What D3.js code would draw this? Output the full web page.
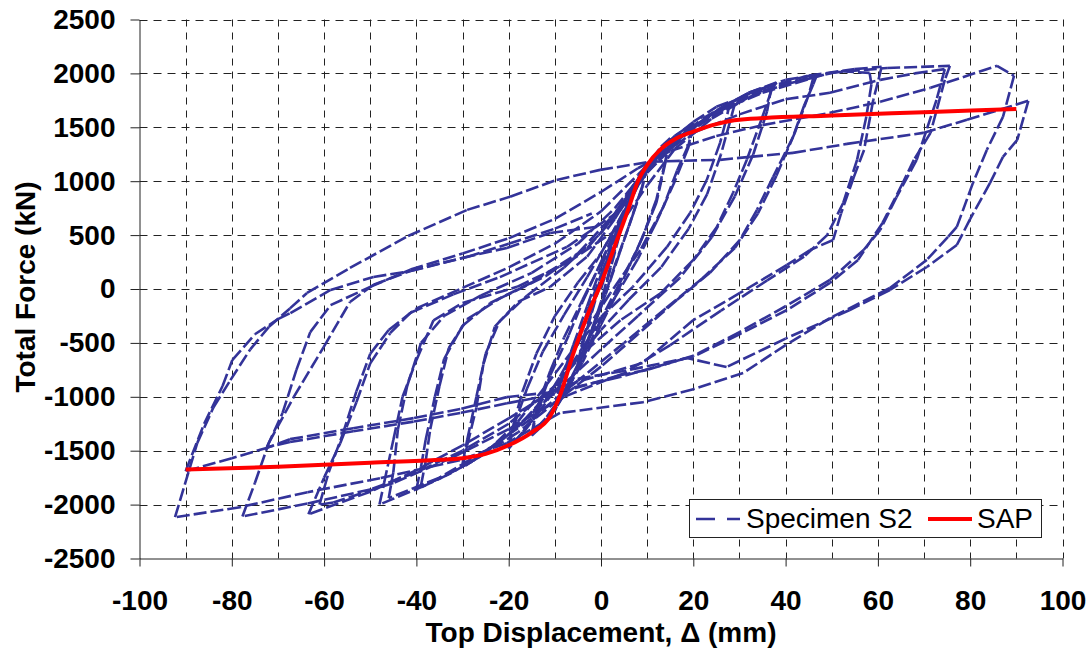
<!DOCTYPE html>
<html>
<head>
<meta charset="utf-8">
<script src="https://cdn.jsdelivr.net/npm/d3@7"></script>
<style>
  body { margin: 0; background: #fff; }
  text { font-family: Arial, "Liberation Sans", sans-serif; }
</style>
</head>
<body>
<div class="chart"></div>
<script>
// axis ticks
var xTicks = [-100, -80, -60, -40, -20, 0, 20, 40, 60, 80, 100];
var xGrid = [-90, -80, -70, -60, -50, -40, -30, -20, -10, 0, 10, 20, 30, 40, 50, 60, 70, 80, 90, 100];
var yTicks = [-2500, -2000, -1500, -1000, -500, 0, 500, 1000, 1500, 2000, 2500];
var yGrid = [-2000, -1500, -1000, -500, 0, 500, 1000, 1500, 2000, 2500];

// SAP analysis curve [displacement mm, force kN]
var sapCurve = [[-90, -1675], [-70, -1650], [-50, -1612], [-35, -1585], [-30, -1570], [-25, -1530],
  [-20, -1450], [-15, -1330], [-11, -1180], [-9, -1000], [-6, -600], [-3, -250], [0, 50], [3, 400],
  [6, 750], [8, 1000], [10, 1150], [13, 1300], [16, 1390], [20, 1460], [25, 1530], [30, 1570],
  [50, 1610], [70, 1640], [90, 1670]];

// Specimen S2 test record, read cycle by cycle
var s2Cycle5 = [[0, 0], [2, 280], [4, 560], [5, 680], [4, 520], [2, 200], [0, -120], [-2, -380], [-4, -600],
  [-5, -700], [-4, -520], [-2, -220], [0, 80], [2, 380], [4, 600], [5, 690], [4, 500], [2, 180], [0, -150],
  [-2, -400], [-4, -620], [-5, -690]];
var s2Cycle10 = [[-4, -480], [-2, -200], [0, 120], [3, 480], [6, 820], [8, 1000], [10, 1150], [9, 950], [7, 700],
  [4, 330], [1, -50], [-2, -380], [-5, -700], [-8, -950], [-10, -1130], [-9, -900], [-6, -560], [-3, -220],
  [0, 130], [3, 480], [6, 820], [8, 1020], [10, 1160], [9, 960], [6, 580], [3, 220], [0, -170], [-3, -500],
  [-6, -800], [-8, -980], [-10, -1120]];
var s2Cycle15 = [[-9, -880], [-6, -520], [-3, -160], [0, 200], [4, 600], [8, 960], [11, 1200], [13, 1320],
  [15, 1400], [14, 1200], [12, 830], [9, 480], [6, 200], [3, -80], [0, -330], [-4, -680], [-8, -980],
  [-11, -1170], [-13, -1280], [-15, -1360], [-14, -1150], [-11, -800], [-7, -430], [-4, -120], [0, 250],
  [4, 620], [8, 980], [11, 1200], [15, 1380], [14, 1180], [12, 800], [8, 380], [4, 50], [0, -280],
  [-4, -650], [-8, -960], [-12, -1200], [-15, -1340]];
var s2Cycle20 = [[-14, -1120], [-11, -760], [-8, -450], [-4, -100], [0, 240], [4, 620], [8, 980], [12, 1240],
  [16, 1420], [20, 1540], [19, 1340], [16.5, 1100], [13.5, 760], [8.5, 360], [2, -40], [-4, -430], [-9, -820],
  [-13, -1100], [-17, -1330], [-20, -1480], [-19, -1280], [-16, -920], [-12.6, -580], [-8, -240], [-3, 110],
  [2, 480], [7, 900], [11, 1180], [15, 1380], [20, 1520], [19, 1320], [16, 1000], [12, 620], [8, 280],
  [3, -80], [-3, -480], [-8, -800], [-13, -1120], [-17, -1340], [-20, -1460]];
var s2Cycle30 = [[-19, -1260], [-17, -950], [-14, -600], [-10, -250], [-5, 60], [0, 330], [5, 720], [10, 1120],
  [15, 1380], [20, 1550], [25, 1690], [28, 1740], [27, 1550], [25.8, 1355], [22.9, 1010], [19.3, 705],
  [14.3, 390], [6.9, 20], [0, -260], [-6, -560], [-12, -900], [-18, -1230], [-24, -1480], [-30, -1660],
  [-29, -1450], [-27, -1100], [-25.5, -700], [-23, -350], [-18, -120], [-11, 20], [-3, 300], [3, 650],
  [8, 1000], [12, 1220], [18, 1430], [24, 1600], [29, 1720], [28, 1560], [26, 1250], [23, 880], [19, 560],
  [13, 200], [6, -100], [0, -380], [-8, -800], [-15, -1150], [-22, -1420], [-28, -1580], [-30, -1620]];
var s2Cycle40 = [[-29, -1400], [-27, -1000], [-25, -600], [-22, -300], [-16, -60], [-8, 200], [0, 520], [6, 880],
  [12, 1220], [20, 1500], [26, 1680], [32, 1820], [38, 1915], [37, 1850], [35, 1600], [31.6, 1200],
  [28.6, 890], [25.1, 575], [20, 270], [12.9, -40], [4.2, -290], [-3, -560], [-10, -900], [-18, -1280],
  [-26, -1550], [-33, -1720], [-40, -1860], [-39, -1650], [-38, -1400], [-36, -1000], [-34, -650],
  [-30, -340], [-24, -130], [-15, 60], [-5, 330], [3, 700], [10, 1100], [16, 1380], [22, 1580], [28, 1730],
  [33, 1830], [37, 1890], [36, 1650], [33, 1250], [29, 860], [24, 480], [17, 100], [8, -250], [0, -560],
  [-10, -960], [-20, -1350], [-28, -1600], [-35, -1760], [-39, -1820]];
var s2Cycle48 = [[-38, -1600], [-37, -1300], [-35, -900], [-33, -550], [-29, -280], [-22, -90], [-12, 120],
  [-3, 380], [4, 720], [10, 1080], [16, 1360], [24, 1620], [32, 1820], [40, 1940], [46.8, 1987], [46, 1900],
  [44, 1700], [41.6, 1410], [37.3, 1040], [33.8, 735], [30.1, 455], [23.6, 150], [16.5, -100], [8, -420],
  [0, -720], [-9, -1020], [-18, -1330], [-28, -1600], [-38, -1820], [-48, -2000], [-47, -1800], [-45, -1400],
  [-43, -1000], [-40, -660], [-36.3, -290], [-30, -130], [-18.2, 20], [-7.4, 240], [3.4, 550], [10, 960],
  [16, 1300], [24, 1580], [32, 1780], [40, 1900], [46, 1960], [45, 1800], [42, 1450], [38, 1050], [34, 700],
  [29, 380], [22, 100], [14, -180], [5, -500], [-5, -850], [-15, -1200], [-25, -1500], [-35, -1750],
  [-46, -1940]];
var s2Cycle60 = [[-45, -1700], [-44, -1300], [-42, -900], [-39, -500], [-34, -250], [-26, -60], [-15, 150],
  [-5, 420], [3, 750], [10, 1120], [18, 1450], [26, 1680], [35, 1860], [45, 1980], [55, 2040], [60.8, 2061],
  [60, 1920], [59, 1755], [57, 1290], [54.8, 1040], [52, 700], [50.3, 455], [45.3, 362], [40.3, 223],
  [30.1, -37], [20, -288], [9, -687], [-9, -910], [-20, -1200], [-30, -1450], [-40, -1680], [-50, -1880],
  [-63.4, -2090], [-60, -1750], [-56.5, -1430], [-53, -1050], [-50, -690], [-45.7, -410], [-41.3, -220],
  [-32, -50], [-21.9, 110], [-7.4, 390], [3.4, 706], [10, 1080], [18, 1420], [26, 1660], [35, 1840],
  [45, 1960], [52, 2020], [58.2, 2005], [58.6, 1900], [57.5, 1600], [55.5, 1200], [52.5, 800], [49, 500],
  [44, 300], [36, 80], [26, -200], [15, -520], [5, -780], [-8, -1000], [-20, -1300], [-32, -1560],
  [-45, -1800], [-58, -1980], [-61, -2000]];
var s2Cycle75 = [[-59, -1700], [-56, -1350], [-53, -950], [-50, -600], [-46, -380], [-40, -180], [-30, 10],
  [-20, 200], [-10, 420], [0, 720], [8, 1060], [15, 1360], [25, 1640], [35, 1820], [49.6, 2005], [62, 2050],
  [75.6, 2070], [74.5, 1940], [71.4, 1448], [67.8, 1198], [65.4, 984], [61, 613], [55.7, 270], [49.6, 56],
  [40.3, -195], [30, -420], [19.9, -631], [5, -760], [-8.9, -860], [-20, -1250], [-30, -1500], [-40, -1700],
  [-50, -1860], [-63.6, -1990], [-77.7, -2110], [-75, -1800], [-72, -1430], [-66.6, -1003], [-60.1, -539],
  [-54.4, -121], [-49.3, 40], [-41.3, 167], [-30, 290], [-20.4, 381], [-11, 520], [1.3, 590], [6, 900],
  [10, 1150], [20, 1450], [30, 1620], [40, 1760], [49.6, 1820], [60.5, 1940], [68, 2000], [74.5, 2040],
  [72.7, 1755], [68.4, 1198], [64, 850], [60.5, 548], [56.9, 362], [49.6, 84], [40, -160], [30, -400],
  [20, -620], [10, -750], [4.1, -800], [-10.4, -980], [-20.4, -1060], [-30.5, -1150], [-40.6, -1230],
  [-53.7, -1320], [-67.4, -1420], [-72.4, -1467]];
var s2Cycle90 = [[-69, -1150], [-66, -750], [-63, -400], [-58.6, -150], [-50, 20], [-41.3, 180], [-30, 330],
  [-20, 470], [-10, 650], [0, 900], [8, 1120], [15, 1280], [25, 1420], [35, 1520], [49.6, 1634], [60.5, 1736],
  [71.4, 1866], [85.8, 2070], [89.5, 1978], [87.1, 1597], [83.6, 1290], [80.6, 984], [77.1, 576], [75.2, 483],
  [70.6, 270], [62.6, 9], [49.6, -270], [40, -520], [30.8, -780], [20, -930], [9.1, -1050], [-8.9, -1150],
  [-20.4, -1430], [-30.6, -1588], [-47.9, -1755], [-63.6, -1885], [-78.2, -2024], [-92.3, -2117],
  [-87.5, -1430], [-84, -1100], [-80.3, -845], [-76, -560], [-72, -353], [-67.4, -180], [-63.7, -37],
  [-54.4, 195], [-41.8, 492], [-29, 734], [-19.7, 856], [-9.6, 1012], [-0.2, 1105], [10.6, 1180], [18, 1190],
  [25.8, 1198], [32.3, 1226], [41.6, 1263], [53.3, 1346], [69.8, 1448], [79.3, 1570], [92.6, 1746],
  [90.2, 1383], [87.1, 1226], [84.3, 984], [80, 650], [77.1, 408], [70.6, 204], [62.6, -9], [53.9, -195],
  [40, -460], [27.2, -724], [18.6, -640], [4.1, -817], [-10.4, -956], [-20.4, -1003], [-30.5, -1114],
  [-40.6, -1198], [-53.7, -1291], [-67.4, -1393], [-71.9, -1467], [-80, -1570], [-90, -1690], [-86, -1250],
  [-82, -900], [-79.9, -660], [-75, -420], [-70, -280], [-67.3, -223], [-58.6, -9], [-49.3, 112],
  [-41.3, 167], [-29, 297], [-20, 420], [-10, 560], [-2, 700]];

var svgWidth = 1091;
var svgHeight = 651;

var svg = d3.select(".chart")
  .append("svg")
  .attr("width", svgWidth)
  .attr("height", svgHeight);

// scales
var xScale = d3.scaleLinear().domain([-100, 100]).range([139.5, 1062.5]);
var yScale = d3.scaleLinear().domain([-2500, 2500]).range([558.5, 19.5]);

// grid
svg.append("g").selectAll("line")
  .data(xGrid)
  .enter()
  .append("line")
  .attr("x1", d => Math.round(xScale(d)) + 0.5)
  .attr("x2", d => Math.round(xScale(d)) + 0.5)
  .attr("y1", yScale(2500))
  .attr("y2", yScale(-2500))
  .attr("stroke", "#222")
  .attr("stroke-width", 1)
  .attr("stroke-dasharray", "7,6");

svg.append("g").selectAll("line")
  .data(yGrid)
  .enter()
  .append("line")
  .attr("x1", xScale(-100))
  .attr("x2", xScale(100))
  .attr("y1", d => Math.round(yScale(d)) + 0.5)
  .attr("y2", d => Math.round(yScale(d)) + 0.5)
  .attr("stroke", "#222")
  .attr("stroke-width", 1)
  .attr("stroke-dasharray", "8,6");

// axes, plain hyphen labels without thousands separator
var xAxis = d3.axisBottom(xScale).tickValues(xTicks).tickSize(8).tickSizeOuter(0).tickPadding(24)
  .tickFormat(d => String(d));
var yAxis = d3.axisLeft(yScale).tickValues(yTicks).tickSize(9).tickSizeOuter(0).tickPadding(15)
  .tickFormat(d => String(d));

var gx = svg.append("g")
  .attr("transform", `translate(0, ${yScale(-2500)})`)
  .call(xAxis);
var gy = svg.append("g")
  .attr("transform", `translate(${xScale(-100)}, 0)`)
  .call(yAxis);

[gx, gy].forEach(function (g) {
  g.select(".domain").attr("stroke", "#222");
  g.selectAll(".tick line").attr("stroke", "#222");
  g.selectAll("text")
    .attr("fill", "#000")
    .style("font-size", "28px")
    .style("font-weight", "bold")
    .style("font-family", "Arial, 'Liberation Sans', sans-serif");
});

// specimen S2: every segment dashed on its own, so dense parts read as solid
var s2Points = [].concat(s2Cycle5, s2Cycle10, s2Cycle15, s2Cycle20, s2Cycle30,
  s2Cycle40, s2Cycle48, s2Cycle60, s2Cycle75, s2Cycle90);

svg.append("g").selectAll("line")
  .data(d3.pairs(s2Points))
  .enter()
  .append("line")
  .attr("x1", d => xScale(d[0][0]))
  .attr("y1", d => yScale(d[0][1]))
  .attr("x2", d => xScale(d[1][0]))
  .attr("y2", d => yScale(d[1][1]))
  .attr("stroke", "#333399")
  .attr("stroke-width", 2.6)
  .attr("stroke-linecap", "butt")
  .attr("stroke-dasharray", "13,4");

// SAP line
var line = d3.line()
  .x(d => xScale(d[0]))
  .y(d => yScale(d[1]))
  .curve(d3.curveMonotoneX);

svg.append("path")
  .datum(sapCurve)
  .attr("d", line)
  .attr("fill", "none")
  .attr("stroke", "#ff0000")
  .attr("stroke-width", 4);

// axis titles
svg.append("text")
  .attr("x", 601)
  .attr("y", 642)
  .attr("text-anchor", "middle")
  .style("font-size", "28px")
  .style("font-weight", "bold")
  .text("Top Displacement, \u0394 (mm)");

svg.append("text")
  .attr("transform", "translate(35, 287) rotate(-90)")
  .attr("text-anchor", "middle")
  .style("font-size", "28px")
  .style("font-weight", "bold")
  .text("Total Force (kN)");

// legend
var legend = svg.append("g");
legend.append("rect")
  .attr("x", 689.5).attr("y", 499.5)
  .attr("width", 352).attr("height", 38)
  .attr("fill", "#fff").attr("stroke", "#222");
legend.append("line")
  .attr("x1", 696).attr("x2", 740).attr("y1", 519).attr("y2", 519)
  .attr("stroke", "#333399").attr("stroke-width", 2.5)
  .attr("stroke-dasharray", "19,12");
legend.append("text")
  .attr("x", 746).attr("y", 528)
  .style("font-size", "28px")
  .text("Specimen S2");
legend.append("line")
  .attr("x1", 928).attr("x2", 972).attr("y1", 519).attr("y2", 519)
  .attr("stroke", "#ff0000").attr("stroke-width", 4);
legend.append("text")
  .attr("x", 977).attr("y", 528)
  .style("font-size", "28px")
  .text("SAP");
</script>
</body>
</html>
